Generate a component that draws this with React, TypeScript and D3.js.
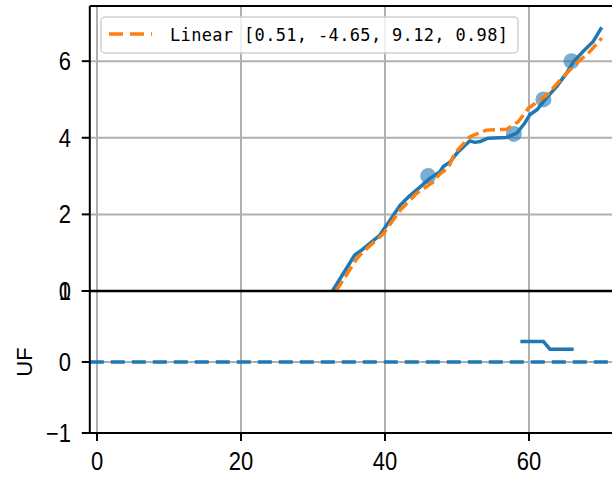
import React from "react";
import * as d3 from "d3";

const lineX = [32.7, 35.8, 36.5, 38.2, 39.3, 40.7, 42.1, 43.5, 44.9, 46.25, 47.6, 48.1, 49.0, 50.0, 51.8, 52.5, 53.2, 54.3, 56.9, 58.3, 59.4, 60.1, 61.1, 62.2, 63.8, 65.2, 66.2, 67.5, 68.9, 70.1];
const lineY = [0, 0.94, 1.03, 1.29, 1.46, 1.85, 2.24, 2.5, 2.72, 2.94, 3.11, 3.25, 3.36, 3.6, 3.92, 3.88, 3.9, 3.99, 4.01, 4.12, 4.38, 4.6, 4.73, 4.99, 5.33, 5.68, 5.99, 6.25, 6.51, 6.88];

const fitX = [33.2, 36.1, 37.0, 39.8, 42.1, 44.4, 46.7, 47.6, 48.8, 49.7, 51.8, 54.1, 56.9, 58.5, 59.9, 62.5, 64.8, 66.6, 68.2, 70.1];
const fitY = [0, 0.85, 1.03, 1.5, 2.11, 2.55, 2.85, 3.05, 3.22, 3.6, 4.03, 4.2, 4.22, 4.42, 4.77, 5.12, 5.6, 5.95, 6.2, 6.6];

const obsX = [46.0, 57.9, 62.0, 65.9];
const obsY = [3.0, 4.1, 5.0, 6.0];

const ufX = [58.8, 62.0, 62.9, 66.2];
const ufY = [0.29, 0.29, 0.18, 0.18];
const ufZeroX = [-1, 80];
const ufZeroY = [0, 0];

const xTicks = [0, 20, 40, 60];
const topTicks = [0, 2, 4, 6];
const bottomTicks = [-1, 0, 1];
const legendLabel = "Linear [0.51, -4.65, 9.12, 0.98]";
const yLabelBottom = "UF";

const BLUE = "#1f77b4";
const ORANGE = "#ff7f0e";
const GRID = "#b0b0b0";
const FONT = "'Liberation Sans Narrow', 'Liberation Sans', sans-serif";

export default function App() {
  const x = d3.scaleLinear().domain([-1, 80]).range([89.8, 89.8 + 81 * 7.2]);
  const yTop = d3.scaleLinear().domain([0, 7.44]).range([291, 6]);
  const yBot = d3.scaleLinear().domain([-1, 1]).range([433, 291]);

  const topLine = d3.line<number>().x((_, i) => x(lineX[i])).y((_, i) => yTop(lineY[i]));
  const fitLine = d3.line<number>().x((_, i) => x(fitX[i])).y((_, i) => yTop(fitY[i]));
  const ufLine = d3.line<number>().x((_, i) => x(ufX[i])).y((_, i) => yBot(ufY[i]));
  const zeroLine = d3.line<number>().x((_, i) => x(ufZeroX[i])).y((_, i) => yBot(ufZeroY[i]));

  const left = x(-1);
  const right = 700;

  const tickText = (px: number, py: number, label: string, anchor: string, key: string) => (
    <text key={key} transform={`translate(${px},${py}) scale(0.88,1)`} textAnchor={anchor} fontFamily={FONT} fontSize={25} fill="#000">
      {label}
    </text>
  );

  return (
    <svg width={612} height={480} style={{ position: "absolute", left: 0, top: 0, background: "#fff" }}>
      <defs>
        <clipPath id="clipTop"><rect x={left} y={6} width={right - left} height={285} /></clipPath>
        <clipPath id="clipBot"><rect x={left} y={291} width={right - left} height={142} /></clipPath>
      </defs>
      {xTicks.map((t) => (
        <line key={"gt" + t} x1={x(t)} x2={x(t)} y1={6} y2={291} stroke={GRID} strokeWidth={2} />
      ))}
      {topTicks.map((t) => (
        <line key={"gty" + t} x1={left} x2={right} y1={yTop(t)} y2={yTop(t)} stroke={GRID} strokeWidth={2} />
      ))}
      {xTicks.map((t) => (
        <line key={"gb" + t} x1={x(t)} x2={x(t)} y1={291} y2={433} stroke={GRID} strokeWidth={2} />
      ))}
      {bottomTicks.map((t) => (
        <line key={"gby" + t} x1={left} x2={right} y1={yBot(t)} y2={yBot(t)} stroke={GRID} strokeWidth={2} />
      ))}

      <g clipPath="url(#clipTop)">
        {obsX.map((v, i) => (
          <circle key={"o" + i} cx={x(v)} cy={yTop(obsY[i])} r={8} fill={BLUE} fillOpacity={0.6} />
        ))}
        <path d={topLine(lineX) || ""} fill="none" stroke={BLUE} strokeWidth={3.5} strokeLinejoin="round" />
        <path d={fitLine(fitX) || ""} fill="none" stroke={ORANGE} strokeWidth={3.5} strokeDasharray="12,5" />
      </g>

      <g clipPath="url(#clipBot)">
        <path d={zeroLine(ufZeroX) || ""} fill="none" stroke={BLUE} strokeWidth={3.5} strokeDasharray="14,7" />
        <path d={ufLine(ufX) || ""} fill="none" stroke={BLUE} strokeWidth={3.5} />
      </g>

      <line x1={left} x2={right} y1={6} y2={6} stroke="#000" strokeWidth={2} />
      <line x1={left} x2={right} y1={291} y2={291} stroke="#000" strokeWidth={2.5} />
      <line x1={left} x2={right} y1={433} y2={433} stroke="#000" strokeWidth={2} />
      <line x1={left} x2={left} y1={6} y2={433} stroke="#000" strokeWidth={2} />

      {topTicks.map((t) => (
        <g key={"yt" + t}>
          <line x1={left - 8} x2={left} y1={yTop(t)} y2={yTop(t)} stroke="#000" strokeWidth={2} />
          {tickText(71, yTop(t) + 9, String(t), "end", "ytt" + t)}
        </g>
      ))}
      {bottomTicks.map((t) => (
        <g key={"yb" + t}>
          <line x1={left - 8} x2={left} y1={yBot(t)} y2={yBot(t)} stroke="#000" strokeWidth={2} />
          {tickText(71, yBot(t) + 9, t < 0 ? "\u2212" + Math.abs(t) : String(t), "end", "ybt" + t)}
        </g>
      ))}
      {xTicks.map((t) => (
        <g key={"xt" + t}>
          <line x1={x(t)} x2={x(t)} y1={433} y2={441} stroke="#000" strokeWidth={2} />
          {tickText(x(t), 470, String(t), "middle", "xtt" + t)}
        </g>
      ))}

      <text transform={`translate(32,${yBot(0)}) rotate(-90)`} textAnchor="middle" fontFamily={FONT} fontSize={22} fill="#000">
        {yLabelBottom}
      </text>

      <rect x={101} y={17} width={417} height={36} rx={4} fill="#fff" fillOpacity={0.8} stroke="#d0d0d0" strokeWidth={1.5} />
      <line x1={109} x2={152} y1={34} y2={34} stroke={ORANGE} strokeWidth={3.5} strokeDasharray="14,7" />
      <text x={170} y={41} fontFamily="'DejaVu Sans Mono', monospace" fontSize={17} fill="#000" textLength={338} lengthAdjust="spacing">
        {legendLabel}
      </text>
    </svg>
  );
}
